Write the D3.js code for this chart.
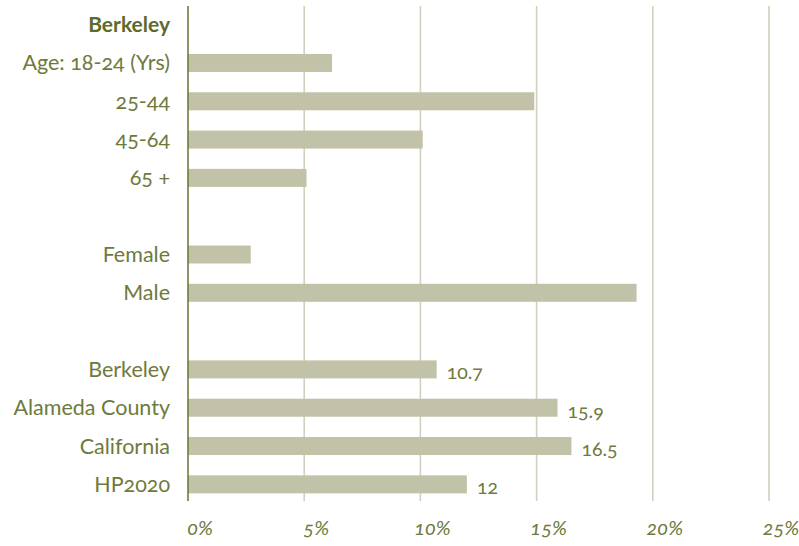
<!DOCTYPE html>
<html>
<head>
  <meta charset='utf-8'>
  <title>Berkeley</title>
  <style>
    body { margin: 0; background: #fff; }
    svg text {
      font-family: 'Lato', 'Open Sans', sans-serif;
      font-variant-numeric: oldstyle-nums;
      font-feature-settings: 'onum' 1;
    }
  </style>
  <script src='https://cdn.jsdelivr.net/npm/d3@7/dist/d3.min.js'></script>
</head>
<body>
  <svg id='chart' width='799' height='546'></svg>
  <script>
    // row labels, top to bottom ('' rows are gaps)
    const rows = ['Berkeley', 'Age: 18-24 (Yrs)', '25-44', '45-64', '65 +', '',
                  'Female', 'Male', ' ',
                  'Berkeley ', 'Alameda County', 'California', 'HP2020'];
    const headers = ['Berkeley'];
    const values = [null, 6.2, 14.9, 10.1, 5.1, null,
                    2.7, 19.3, null,
                    10.7, 15.9, 16.5, 12];
    // only the comparison rows carry value labels
    const valueLabels = [null, null, null, null, null, null,
                         null, null, null,
                         '10.7', '15.9', '16.5', '12'];
    const ticks = [0, 5, 10, 15, 20, 25];
    const tickLabels = ['0%', '5%', '10%', '15%', '20%', '25%'];

    const textColor = '#6e7a3c';
    const headColor = '#5c6a2a';
    const barColor = '#c2c2a8';
    const gridColor = '#d0d0bd';

    const svg = d3.select('#chart');
    const x = d3.scaleLinear().domain([0, 25]).range([188, 769]);
    const y = d3.scaleBand()
        .domain(rows)
        .range([5.5, 503.5])
        .paddingInner(0.53)
        .paddingOuter(0.265);
    const data = rows.map((r, i) => ({ row: r, value: values[i], label: valueLabels[i] }));

    // vertical gridlines
    svg.append('g').selectAll('line')
        .data(ticks.slice(1))
        .join('line')
            .attr('x1', d => x(d)).attr('x2', d => x(d))
            .attr('y1', 6).attr('y2', 501)
            .attr('stroke', gridColor)
            .attr('stroke-width', 1.6);

    // bars
    svg.append('g').selectAll('rect')
        .data(data.filter(d => d.value != null))
        .join('rect')
            .attr('x', x(0))
            .attr('y', d => y(d.row))
            .attr('width', d => x(d.value) - x(0))
            .attr('height', y.bandwidth())
            .attr('fill', barColor);

    // axis line
    svg.append('line')
        .attr('x1', x(0)).attr('x2', x(0))
        .attr('y1', 6).attr('y2', 501)
        .attr('stroke', '#6b7030')
        .attr('stroke-width', 1.5);

    // row labels
    svg.append('g').selectAll('text')
        .data(data.filter(d => d.row.trim() !== ''))
        .join('text')
            .attr('x', 170)
            .attr('y', d => y(d.row) + y.bandwidth() / 2)
            .attr('dy', '0.35em')
            .attr('text-anchor', 'end')
            .attr('font-size', d => headers.includes(d.row) ? 21 : 21.5)
            .attr('font-weight', d => headers.includes(d.row) ? 700 : 400)
            .attr('fill', d => headers.includes(d.row) ? headColor : textColor)
            .text(d => d.row.trim());

    // value labels
    svg.append('g').selectAll('text')
        .data(data.filter(d => d.label))
        .join('text')
            .attr('x', d => x(d.value) + 10)
            .attr('y', d => y(d.row) + y.bandwidth() / 2 + 3)
            .attr('dy', '0.35em')
            .attr('font-size', 19.5)
            .attr('fill', textColor)
            .text(d => d.label);

    // x tick labels
    svg.append('g').selectAll('text')
        .data(ticks)
        .join('text')
            .attr('x', d => x(d) + 12)
            .attr('y', 535)
            .attr('text-anchor', 'middle')
            .attr('font-size', 20)
            .attr('font-style', 'italic')
            .attr('fill', textColor)
            .text((d, i) => tickLabels[i]);
  </script>
</body>
</html>
